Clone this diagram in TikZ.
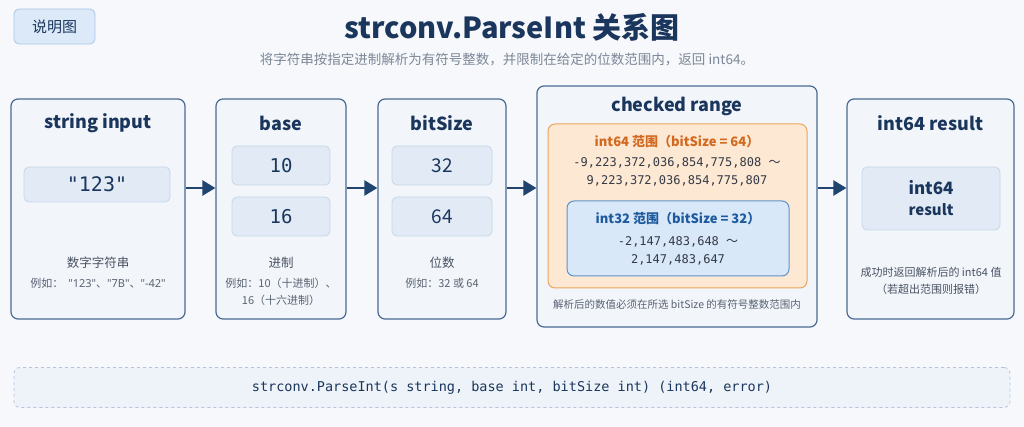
\documentclass[tikz,border=0pt]{standalone}
\usepackage{fontspec}
\setmainfont{Noto Sans CJK SC}
\newfontfamily\monof{DejaVu Sans Mono}
\newfontfamily\latf{Noto Sans}[Ligatures=TeXOff]
\usetikzlibrary{arrows.meta}
\definecolor{bgc}{HTML}{F6F8FB}
\definecolor{navy}{HTML}{1B365D}
\definecolor{boxdraw}{HTML}{4A6A92}
\definecolor{boxfill}{HTML}{F2F6FB}
\definecolor{innerdraw}{HTML}{C6D6E8}
\definecolor{innerfill}{HTML}{E2EBF5}
\definecolor{descc}{HTML}{4A5262}
\definecolor{exc}{HTML}{5A6272}
\definecolor{subc}{HTML}{7C8797}
\definecolor{orgdraw}{HTML}{EFA45A}
\definecolor{orgfill}{HTML}{FCE8D3}
\definecolor{orgtext}{HTML}{D2691E}
\definecolor{bludraw}{HTML}{5E92C8}
\definecolor{blufill}{HTML}{D9E8F8}
\definecolor{blutext}{HTML}{1D5A9E}
\definecolor{arrc}{HTML}{1F4470}
\definecolor{badgefill}{HTML}{DCE9F8}
\definecolor{badgedraw}{HTML}{A9C6E8}
\definecolor{sigfill}{HTML}{EEF3FA}
\definecolor{sigdraw}{HTML}{B4C5DA}
\begin{document}
\begin{tikzpicture}[x=1pt,y=-1pt,
  outerbox/.style={draw=boxdraw,fill=boxfill,rounded corners=7pt,line width=1.2pt,inner sep=0pt},
  innerbox/.style={draw=innerdraw,fill=innerfill,rounded corners=5pt,line width=0.8pt,inner sep=0pt},
  txt/.style={inner sep=0pt,align=center},
  boxtitle/.style={txt,text=navy,font=\fontsize{18}{22}\selectfont\bfseries},
  desc/.style={txt,text=descc,font=\fontsize{12.5}{15}\selectfont},
  ex/.style={txt,text=exc,font=\fontsize{11}{17}\selectfont},
  arr/.style={draw=arrc,line width=2.4pt,-{Triangle[length=13pt,width=15pt]}}
]
\fill[bgc] (0,0) rectangle (1024,427);
\useasboundingbox (0,0) rectangle (1024,427);

% header
\node[draw=badgedraw,fill=badgefill,rounded corners=5pt,line width=0.8pt,minimum width=81pt,minimum height=35pt,inner sep=0pt,text=navy,font=\fontsize{15}{18}\selectfont] (badge) at (54.5,26.5) {说明图};
\node[txt,text=navy,font=\fontsize{29}{34}\selectfont\bfseries] (title) at (512,27) {strconv.ParseInt 关系图};
\node[txt,text=subc,font=\fontsize{13.5}{16}\selectfont] (sub) at (507,60) {将字符串按指定进制解析为有符号整数，并限制在给定的位数范围内，返回 int64。};

% boxes
\node[outerbox,minimum width=174pt,minimum height=220pt] (b1) at (98,209) {};
\node[outerbox,minimum width=130pt,minimum height=220pt] (b2) at (281,209) {};
\node[outerbox,minimum width=128pt,minimum height=220pt] (b3) at (442,209) {};
\node[outerbox,minimum width=280pt,minimum height=241pt] (b4) at (677,206.5) {};
\node[outerbox,minimum width=167pt,minimum height=220pt] (b5) at (930.5,209) {};

% box 1
\node[boxtitle] (t1) at (98,123) {string input};
\node[innerbox,minimum width=146pt,minimum height=35pt,text=navy,font=\monof\fontsize{20}{24}\selectfont] (s1) at (97,184.5) {"123"};
\node[desc] (d1) at (98,263) {数字字符串};
\node[ex] (e1) at (98,283) {例如：\ \ {\latf "123"}、{\latf "7B"}、{\latf "-42"}};

% box 2
\node[boxtitle] (t2) at (281,123) {base};
\node[innerbox,minimum width=98pt,minimum height=39pt,text=navy,font=\monof\fontsize{19}{23}\selectfont] (s2a) at (281,165.5) {10};
\node[innerbox,minimum width=98pt,minimum height=39pt,text=navy,font=\monof\fontsize{19}{23}\selectfont] (s2b) at (281,216.5) {16};
\node[desc] (d2) at (281,263) {进制};
\node[ex] (e2) at (281,292) {例如：10（十进制）、\\16（十六进制）};

% box 3
\node[boxtitle] (t3) at (442,123) {bitSize};
\node[innerbox,minimum width=100pt,minimum height=39pt,text=navy,font=\fontsize{19}{23}\selectfont] (s3a) at (442,165.5) {32};
\node[innerbox,minimum width=100pt,minimum height=39pt,text=navy,font=\fontsize{19}{23}\selectfont] (s3b) at (442,216.5) {64};
\node[desc] (d3) at (442,263) {位数};
\node[ex] (e3) at (442,283) {例如：32 或 64};

% box 4
\node[boxtitle] (t4) at (677,106) {checked range};
\node[draw=orgdraw,fill=orgfill,rounded corners=7pt,line width=1pt,minimum width=259pt,minimum height=164pt,inner sep=0pt] (org) at (677.5,206) {};
\node[txt,text=orgtext,font=\fontsize{13}{16}\selectfont\bfseries] (ot) at (677,142) {int64 范围（bitSize = 64）};
\node[txt,text=descc!70!black,font=\fontsize{12}{18}\selectfont] (or) at (677,172) {{\monof -9,223,372,036,854,775,808 }～\\{\monof 9,223,372,036,854,775,807}};
\node[draw=bludraw,fill=blufill,rounded corners=7pt,line width=1pt,minimum width=222pt,minimum height=75pt,inner sep=0pt] (blu) at (678,238.5) {};
\node[txt,text=blutext,font=\fontsize{13}{16}\selectfont\bfseries] (bt) at (678,219) {int32 范围（bitSize = 32）};
\node[txt,text=descc!70!black,font=\fontsize{12}{18}\selectfont] (br) at (678,250.5) {{\monof -2,147,483,648 }～\\{\monof 2,147,483,647}};
\node[txt,text=exc,font=\fontsize{10.5}{13}\selectfont] (d4) at (677,305) {解析后的数值必须在所选 bitSize 的有符号整数范围内};

% box 5
\node[boxtitle] (t5) at (930.5,123) {int64 result};
\node[innerbox,minimum width=138pt,minimum height=63pt] (s5) at (931,198.5) {};
\node[txt,text=navy,font=\fontsize{17}{20}\selectfont\bfseries] (s5a) at (931,188) {int64};
\node[txt,text=navy,font=\fontsize{15}{18}\selectfont\bfseries] (s5b) at (931,210) {result};
\node[ex,text=descc] (d5) at (931,281) {成功时返回解析后的 int64 值\\（若超出范围则报错）};

% arrows
\draw[arr] ([yshift=21pt]b1.east) -- ([yshift=21pt]b1.east -| b2.west);
\draw[arr] ([yshift=21pt]b2.east) -- ([yshift=21pt]b2.east -| b3.west);
\draw[arr] ([yshift=21pt]b3.east) -- ([yshift=21pt]b3.east -| b4.west);
\draw[arr] ([yshift=21pt]b3.east -| b4.east) -- ([yshift=21pt]b3.east -| b5.west);

% signature
\node[draw=sigdraw,dashed,fill=sigfill,rounded corners=6pt,line width=0.8pt,minimum width=996pt,minimum height=40pt,inner sep=0pt,text=navy,font=\monof\fontsize{13.5}{16}\selectfont] (sig) at (512,387.5) {strconv.ParseInt(s string, base int, bitSize int) (int64, error)};
\end{tikzpicture}
\end{document}
